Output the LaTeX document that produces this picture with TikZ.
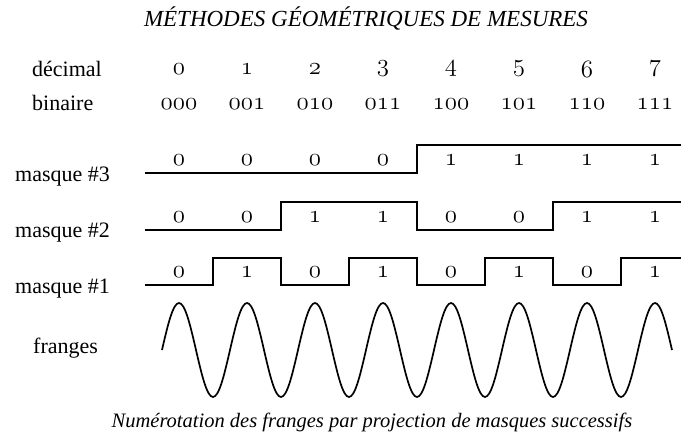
\documentclass[tikz,border=0pt]{standalone}
\usepackage{fontspec}
\setmainfont{Liberation Serif}
\newcommand\osnum[1]{{\usefont{OML}{cmm}{m}{it}#1}}
\begin{document}
\begin{tikzpicture}[x=1pt,y=-1pt,
  lbl/.style={anchor=west,font=\fontsize{22}{24}\selectfont,inner sep=0pt},
  num/.style={font=\fontsize{25}{27}\selectfont,inner sep=0pt},
  ttl/.style={font=\itshape\fontsize{23}{25}\selectfont,inner sep=0pt},
  cpt/.style={font=\itshape\fontsize{20.5}{23}\selectfont,inner sep=0pt},
  sig/.style={line width=2.2pt,line join=miter},
  wave/.style={line width=1.7pt}]
\useasboundingbox (0,0) rectangle (681,435);
\node[ttl] (title) at (366,19) {MÉTHODES GÉOMÉTRIQUES DE MESURES};
\node[lbl] (dec) at (32,69) {décimal};
\node[lbl] (bin) at (32,103) {binaire};
\node[lbl] (m3) at (15,177) {masque \#3};
\node[lbl] (m2) at (15,233) {masque \#2};
\node[lbl] (m1) at (15,289) {masque \#1};
\node[lbl] (fr) at (33,348) {franges};
\foreach \i/\b/\p/\q/\r in {0/000/0/0/0,1/001/0/0/1,2/010/0/1/0,3/011/0/1/1,4/100/1/0/0,5/101/1/0/1,6/110/1/1/0,7/111/1/1/1}{
  \node[num] (d\i) at ({179+68*\i},69) {\osnum{\i}};
  \node[num] (b\i) at ({179+68*\i},104) {\osnum{\b}};
  \node[num] (p\i) at ({179+68*\i},160) {\osnum{\p}};
  \node[num] (q\i) at ({179+68*\i},217) {\osnum{\q}};
  \node[num] (r\i) at ({179+68*\i},272) {\osnum{\r}};
}
\draw[sig] (145,173) -- (417,173) -- (417,145) -- (681,145);
\draw[sig] (145,230) -- (281,230) -- (281,202) -- (417,202) -- (417,230) -- (553,230) -- (553,202) -- (681,202);
\draw[sig] (145,285) -- (213,285) -- (213,258) -- (281,258) -- (281,285) -- (349,285) -- (349,258) -- (417,258) -- (417,285) -- (485,285) -- (485,258) -- (553,258) -- (553,285) -- (621,285) -- (621,258) -- (681,258);
\draw[wave] plot[domain=0:7.5,samples=241,smooth] ({162+68*\x},{350-47*sin(360*\x)});
\node[cpt] (cap) at (372,422) {Numérotation des franges par projection de masques successifs};
\end{tikzpicture}
\end{document}
